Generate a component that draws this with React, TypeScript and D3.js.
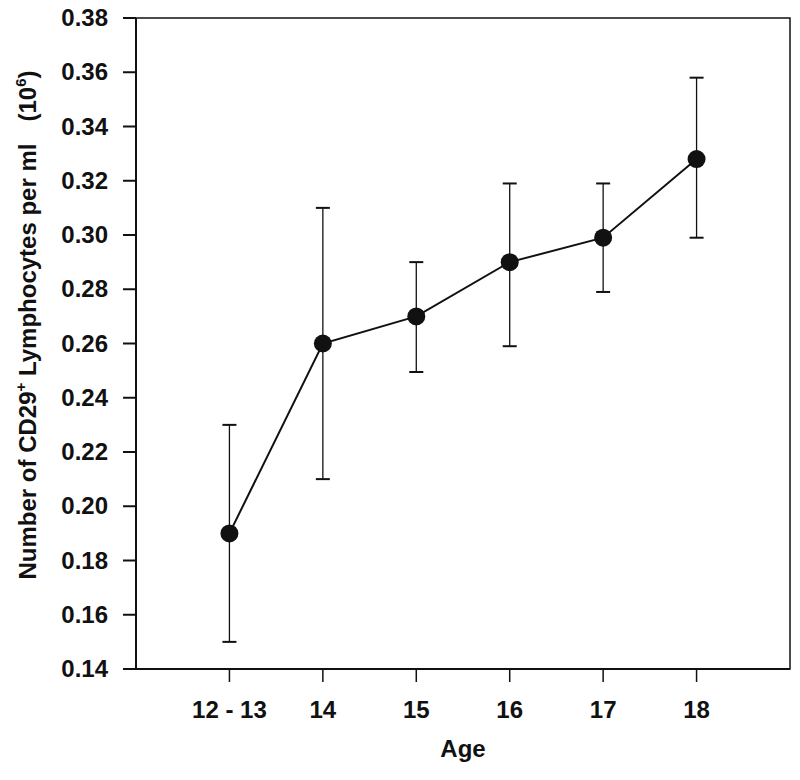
import React from "react";
import * as d3 from "d3";

const categories = ["12 - 13", "14", "15", "16", "17", "18"];
const means = [0.19, 0.26, 0.27, 0.29, 0.299, 0.328];
const upper = [0.23, 0.31, 0.29, 0.319, 0.319, 0.358];
const lower = [0.15, 0.21, 0.2495, 0.259, 0.279, 0.299];
const yTicks = [0.14, 0.16, 0.18, 0.2, 0.22, 0.24, 0.26, 0.28, 0.3, 0.32, 0.34, 0.36, 0.38];

const W = 800;
const H = 780;
const left = 136;
const right = 790;
const top = 18;
const bottom = 669;

export default function App() {
  const x = d3.scaleLinear().domain([-1, categories.length]).range([left, right]);
  const y = d3.scaleLinear().domain([0.14, 0.38]).range([bottom, top]);
  const line = d3
    .line<number>()
    .x((_, i) => x(i))
    .y((d) => y(d));
  const font = "'Liberation Sans', Arial, sans-serif";
  return (
    <svg
      width={W}
      height={H}
      style={{ position: "absolute", left: 0, top: 0, background: "#fff" }}
      fontFamily={font}
    >
      <rect x={0} y={0} width={W} height={H} fill="#fff" />
      {/* frame */}
      <rect x={left} y={top} width={right - left} height={bottom - top} fill="none" stroke="#111" strokeWidth={1.5} />
      <line x1={left} x2={left} y1={top} y2={bottom} stroke="#111" strokeWidth={2} />
      <line x1={left} x2={right} y1={bottom} y2={bottom} stroke="#111" strokeWidth={2} />
      {/* y ticks */}
      {yTicks.map((t) => (
        <g key={t}>
          <line x1={left - 13} x2={left} y1={y(t)} y2={y(t)} stroke="#111" strokeWidth={2} />
          <text
            x={108}
            y={y(t) + 8}
            textAnchor="end"
            fontSize={24}
            fontWeight="bold"
            fill="#111"
          >
            {t.toFixed(2)}
          </text>
        </g>
      ))}
      {/* x ticks */}
      {categories.map((c, i) => (
        <g key={c}>
          <line x1={x(i)} x2={x(i)} y1={bottom} y2={bottom + 13} stroke="#111" strokeWidth={1.5} />
          <text x={x(i)} y={718} textAnchor="middle" fontSize={24} fontWeight="bold" fill="#111">
            {c}
          </text>
        </g>
      ))}
      {/* error bars */}
      {categories.map((c, i) => (
        <g key={"e" + c} stroke="#111">
          <line x1={x(i)} x2={x(i)} y1={y(upper[i])} y2={y(lower[i])} strokeWidth={1.3} />
          <line x1={x(i) - 7} x2={x(i) + 7} y1={y(upper[i])} y2={y(upper[i])} strokeWidth={2} />
          <line x1={x(i) - 7} x2={x(i) + 7} y1={y(lower[i])} y2={y(lower[i])} strokeWidth={2} />
        </g>
      ))}
      <path d={line(means) || ""} fill="none" stroke="#111" strokeWidth={2} />
      {means.map((m, i) => (
        <circle key={"p" + i} cx={x(i)} cy={y(m)} r={9} fill="#111" />
      ))}
      {/* axis titles */}
      <text x={463} y={757} textAnchor="middle" fontSize={24} fontWeight="bold" fill="#111">
        Age
      </text>
      <text
        transform={`translate(36, 325) rotate(-90)`}
        textAnchor="middle"
        fontSize={24}
        fontWeight="bold"
        fill="#111"
      >
        Number of CD29
        <tspan fontSize={15} dy={-10}>+</tspan>
        <tspan dy={10}> Lymphocytes per ml</tspan>
        <tspan dx={22}>(10</tspan>
        <tspan fontSize={15} dy={-10}>6</tspan>
        <tspan dy={10}>)</tspan>
      </text>
    </svg>
  );
}
